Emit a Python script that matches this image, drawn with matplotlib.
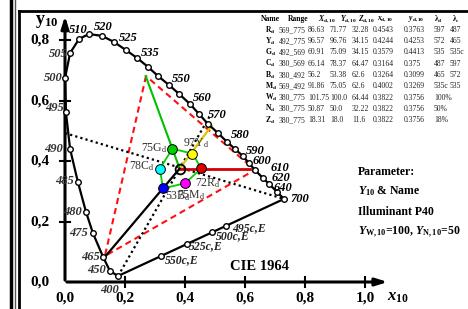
import matplotlib.pyplot as plt
from matplotlib.lines import Line2D

plt.rcParams['font.family'] = ['Liberation Serif', 'DejaVu Serif']
plt.rcParams['mathtext.fontset'] = 'custom'
plt.rcParams['mathtext.rm'] = 'Liberation Serif'
plt.rcParams['mathtext.it'] = 'Liberation Serif:italic'
plt.rcParams['mathtext.bf'] = 'Liberation Serif:bold'
plt.rcParams['mathtext.bfit'] = 'Liberation Serif:italic:bold'

# spectral locus as drawn in the chart (x10, y10)
locus_nm = [400, 450, 465, 475, 480, 485, 490, 495, 500, 505, 510, 515, 520, 525,
            530, 535, 540, 545, 550, 555, 560, 565, 570, 575, 580, 585, 590, 595,
            600, 610, 620, 640, 700]
locus_x = [0.177, 0.150, 0.127, 0.093, 0.070, 0.043, 0.017, 0.003, 0.000, 0.017,
           0.047, 0.080, 0.123, 0.163, 0.203, 0.240, 0.277, 0.310, 0.347, 0.380,
           0.417, 0.447, 0.477, 0.510, 0.540, 0.567, 0.593, 0.613, 0.633, 0.660,
           0.680, 0.707, 0.730]
locus_y = [0.020, 0.036, 0.083, 0.162, 0.232, 0.331, 0.440, 0.563, 0.675, 0.758,
           0.805, 0.821, 0.815, 0.795, 0.768, 0.742, 0.712, 0.682, 0.652, 0.623,
           0.589, 0.556, 0.523, 0.493, 0.464, 0.440, 0.417, 0.394, 0.371, 0.344,
           0.325, 0.298, 0.275]

# points on the purple line
purple_names = ['495c,E', '500c,E', '525c,E', '550c,E']
purple_x = [0.537, 0.490, 0.407, 0.320]
purple_y = [0.186, 0.164, 0.126, 0.086]

# table data
names = ['R', 'Y', 'G', 'C', 'B', 'M', 'W', 'N', 'Z']
ranges = ['569_775', '492_775', '492_569', '380_569', '380_492', '569_492',
          '380_775', '380_775', '380_775']
X10 = [86.63, 96.57, 60.91, 66.14, 56.2, 91.86, 101.75, 50.87, 18.31]
Y10 = [71.77, 96.76, 75.09, 78.37, 53.38, 75.05, 100.0, 50.0, 18.0]
Z10 = [32.28, 34.15, 34.15, 64.47, 62.6, 62.6, 64.44, 32.22, 11.6]
x10 = [0.4543, 0.4244, 0.3579, 0.3164, 0.3264, 0.4002, 0.3822, 0.3822, 0.3822]
y10 = [0.3763, 0.4253, 0.4413, 0.375, 0.3099, 0.3269, 0.3756, 0.3756, 0.3756]
lam_d = ['597', '572', '535', '487', '465', '535c', '100%', '50%', '18%']
lam_c = ['487', '465', '535c', '597', '572', '535', '', '', '']
colors = ['#e00000', '#ffff00', '#00d000', '#00ffff', '#0000ff', '#ff00ff']

# red dashed triangle
tri_x = [0.270, 0.133, 0.633, 0.270]
tri_y = [0.682, 0.086, 0.371, 0.682]

# dotted lines through the white point
dot1_x = [0.000, 0.730]
dot1_y = [0.493, 0.275]
dot2_x = [0.177, 0.483]
dot2_y = [0.020, 0.550]

# lines from W to the locus
ray_r = ([0.3822, 0.617], [0.3756, 0.3756])
ray_y = ([0.3822, 0.489], [0.3756, 0.518])
ray_g = ([0.3822, 0.269], [0.3756, 0.682])
ray_b = ([0.3822, 0.133], [0.3756, 0.083])


def px(xp, yp):
    return (xp - 65) / 300, (282 - yp) / 302


fig = plt.figure(figsize=(4.68, 3.09), dpi=100)
ax = fig.add_axes([0, 0, 1, 1])
ax.set_xlim(-65 / 300, 403 / 300)
ax.set_ylim(-27 / 302, 282 / 302)
ax.axis('off')

# page frame
for xf, lw, c in [(10.5, 2.5, 'k'), (14.5, 1.0, '#555555'), (19, 2.0, 'k')]:
    y_top = 1 if xf < 18 else 1 - 10.5 / 309
    fig.add_artist(Line2D([xf / 468] * 2, [0, y_top], transform=fig.transFigure, lw=lw, color=c))
fig.add_artist(Line2D([19 / 468, 1], [1 - 10.5 / 309] * 2, transform=fig.transFigure, lw=2.0, color='k'))

# axes with arrows
ax.annotate('', xy=(0, 0.89), xytext=(0, -0.003),
            arrowprops=dict(arrowstyle='-|>,head_width=0.22,head_length=0.7', lw=2.2, color='k'))
ax.annotate('', xy=(1.085, 0), xytext=(-0.003, 0),
            arrowprops=dict(arrowstyle='-|>,head_width=0.22,head_length=0.7', lw=2.2, color='k'))
for v in [0.2, 0.4, 0.6, 0.8]:
    ax.plot([-0.017, 0.017], [v, v], color='k', lw=1.5)
for v in [0.2, 0.4, 0.6, 0.8, 1.0]:
    ax.plot([v, v], [-0.017, 0.017], color='k', lw=1.5)
for v in [0.0, 0.2, 0.4, 0.6, 0.8]:
    ax.text(-0.083, v, f'{v:.1f}'.replace('.', ','), ha='center', va='center',
            fontsize=11, fontweight='bold')
for v in [0.0, 0.2, 0.4, 0.6, 0.8, 1.0]:
    ax.text(v, -0.053, f'{v:.1f}'.replace('.', ','), ha='center', va='center',
            fontsize=11, fontweight='bold')
ax.text(*px(47, 22), r'$\mathbf{y}_{\mathbf{10}}$', ha='center', va='center', fontsize=13)
ax.text(*px(398, 297), r'$\mathbfit{x}_{\mathbf{10}}$', ha='center', va='center', fontsize=12)

# construction lines
ax.plot(tri_x, tri_y, color='#ff1010', lw=1.5, dashes=(3, 2), zorder=2)
ax.plot(dot1_x, dot1_y, color='k', lw=1.6, dashes=(1, 1.4), zorder=2)
ax.plot(dot2_x, dot2_y, color='k', lw=1.6, dashes=(1, 1.4), zorder=2)
ax.plot(*ray_g, color='#00c000', lw=1.5, zorder=3)
ax.plot(*ray_y, color='#d8c800', lw=1.6, zorder=3)
ax.plot(*ray_r, color='#d00000', lw=2.0, zorder=3)
ax.plot(*ray_b, color='k', lw=1.6, zorder=3)

# green hexagon through the six colours
order = [2, 1, 0, 5, 4, 3, 2]
ax.plot([x10[i] for i in order], [y10[i] for i in order], color='#00d000', lw=1.3, zorder=4)

# spectral locus and purple line
ax.plot(locus_x, locus_y, color='k', lw=1.6, zorder=5)
ax.plot([locus_x[0], locus_x[-1]], [locus_y[0], locus_y[-1]], color='k', lw=1.6, zorder=5)
ax.plot(locus_x, locus_y, 'o', ms=4, mfc='white', mec='k', mew=1.0, zorder=6)
ax.plot(purple_x, purple_y, 'o', ms=4, mfc='white', mec='k', mew=1.0, zorder=6)

# white point and colour samples
ax.plot(x10[6], y10[6], 'o', ms=7, mfc='none', mec='k', mew=1.3, zorder=6)
for i in range(6):
    ax.plot(x10[i], y10[i], 'o', ms=7, mfc=colors[i], mec='k', mew=0.7, zorder=7)

# sample labels
lab_pos = {'G': (167, 148, 'right'), 'Y': (183, 143, 'left'), 'C': (155, 166, 'right'),
           'R': (195, 183, 'left'), 'B': (165, 196, 'left'), 'M': (177, 195, 'left')}
for i, n in enumerate(names[:6]):
    xp, yp, ha = lab_pos[n]
    ax.text(*px(xp, yp), f'{round(Y10[i])}{n}' + r'$_\mathrm{d}$', ha=ha, va='center',
            fontsize=8.5, color='#333333', zorder=8)

# wavelength labels
right_labels = {510: (78, 30), 520: (103, 27), 525: (128, 38), 535: (150, 53),
                550: (181, 79), 560: (202, 98), 570: (217, 115), 580: (240, 135),
                590: (255, 151), 600: (262, 161), 610: (280, 168), 620: (281, 178),
                640: (283, 188), 700: (300, 199)}
left_labels = {505: (68, 54), 500: (63, 78), 495: (64, 108), 490: (63, 149),
               485: (74, 181), 480: (82, 212), 475: (88, 233), 465: (100, 257),
               450: (106, 270)}
for nm, (xp, yp) in right_labels.items():
    ax.text(*px(xp, yp), str(nm), ha='center', va='center', fontsize=9,
            fontweight='bold', style='italic', zorder=8)
for nm, (xp, yp) in left_labels.items():
    ax.text(*px(xp, yp), str(nm), ha='right', va='center', fontsize=9,
            fontweight='bold', style='italic', color='#333333', zorder=8)
ax.text(*px(110, 290), '400', ha='center', va='center', fontsize=9,
        fontweight='bold', style='italic', color='#333333', zorder=8)
for n, (xp, yp) in zip(purple_names, [(232, 228), (216, 236), (189, 246), (165, 260)]):
    ax.text(*px(xp, yp), n, ha='left', va='center', fontsize=8.5,
            fontweight='bold', style='italic', color='#222222', zorder=8)

ax.text(*px(260, 267), 'CIE 1964', ha='center', va='center', fontsize=10.5, fontweight='bold')

# parameter block
ax.text(*px(358, 172), 'Parameter:', ha='left', va='center', fontsize=8.5, fontweight='bold')
ax.text(*px(358, 191), r'$\mathbfit{Y}_{\mathbf{10}}$ & Name', ha='left', va='center',
        fontsize=8.5, fontweight='bold')
ax.text(*px(358, 212), 'Illuminant P40', ha='left', va='center', fontsize=8.5, fontweight='bold')
ax.text(*px(358, 232), r'$\mathbfit{Y}_{\mathbf{W,10}}$=100, $\mathbfit{Y}_{\mathbf{N,10}}$=50',
        ha='left', va='center', fontsize=8.5, fontweight='bold')

# table
fs = 5.5
head_x = [261, 288, 318, 340, 358, 377, 408, 434, 452]
heads = ['Name', 'Range', r'$\mathbfit{X}_{\mathbf{d,10}}$', r'$\mathbfit{Y}_{\mathbf{d,10}}$',
         r'$\mathbfit{Z}_{\mathbf{d,10}}$', r'$\mathbfit{x}_{\mathbf{d,10}}$',
         r'$\mathbfit{y}_{\mathbf{d,10}}$', r'$\mathbf{\lambda}_{\mathbf{d}}$',
         r'$\mathbf{\lambda}_{\mathbf{c}}$']
for hxp, h in zip(head_x, heads):
    ax.text(*px(hxp, 19), h, ha='left', va='center', fontsize=fs, fontweight='bold')
col_x = [265, 279, 308, 330, 352, 373, 404, 434, 450]
for r in range(9):
    yp = 30 + 11.25 * r
    cells = [ranges[r], str(X10[r]), str(Y10[r]), str(Z10[r]), str(x10[r]), str(y10[r]),
             lam_d[r], lam_c[r]]
    ax.text(*px(col_x[0], yp), names[r] + r'$_\mathbf{d}$', ha='left', va='center',
            fontsize=fs, fontweight='bold')
    for cx, c in zip(col_x[1:], cells):
        ax.text(*px(cx, yp), c, ha='left', va='center', fontsize=fs, color='#222222')

fig.savefig('out.png', dpi=100)
